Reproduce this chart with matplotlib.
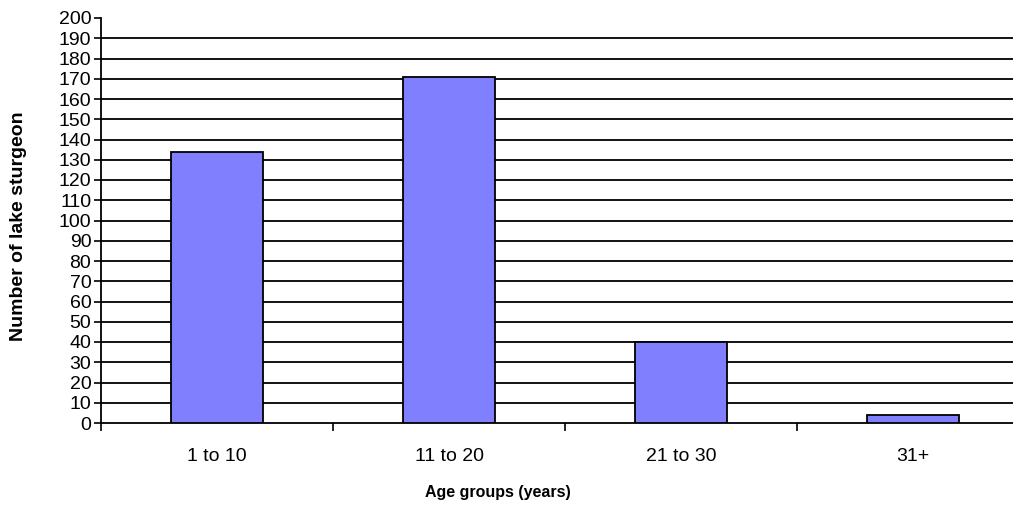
import matplotlib
matplotlib.use("Agg")
import matplotlib.pyplot as plt
from matplotlib.ticker import FixedLocator, NullFormatter

categories = ["1 to 10", "11 to 20", "21 to 30", "31+"]
counts = [134, 171, 40, 4]
y_ticks = list(range(0, 201, 10))

plt.rcParams['font.family'] = ['Liberation Sans', 'DejaVu Sans']

W, H = 1013, 529
fig = plt.figure(figsize=(W / 100, H / 100), dpi=100)
left, right, top, bottom = 101, 1029, 18, 423
ax = fig.add_axes([left / W, 1 - bottom / H, (right - left) / W, (bottom - top) / H])

x = list(range(len(categories)))
ax.bar(x, counts, width=0.4, color="#8080FF", edgecolor="black", linewidth=1.3, zorder=3)

ax.set_xlim(-0.5, len(categories) - 0.5)
ax.set_ylim(0, 200)
ax.set_yticks(y_ticks)
ax.set_yticklabels([str(v) for v in y_ticks])
for v in y_ticks[1:-1]:
    ax.axhline(v, color="black", linewidth=1.3, zorder=1)

ax.set_xticks(x)
ax.set_xticklabels(categories)
ax.xaxis.set_minor_locator(FixedLocator([i - 0.5 for i in range(len(categories) + 1)]))
ax.xaxis.set_minor_formatter(NullFormatter())
ax.tick_params(axis="x", which="major", length=0, pad=18, labelsize=14)
ax.tick_params(axis="x", which="minor", length=6, width=1.2, direction="out")
ax.tick_params(axis="y", length=5, width=1.2, direction="out", pad=2, labelsize=14)

for s in ["top", "right"]:
    ax.spines[s].set_visible(False)
for s in ["left", "bottom"]:
    ax.spines[s].set_linewidth(1.3)

fig.text(19 / W, 1 - 226 / H, "Number of lake sturgeon", rotation=90, ha="center", va="center",
         fontsize=14, fontweight="bold")
fig.text(498 / W, 1 - 492 / H, "Age groups (years)", ha="center", va="center",
         fontsize=11.5, fontweight="bold")

fig.savefig("out.png", dpi=100)
